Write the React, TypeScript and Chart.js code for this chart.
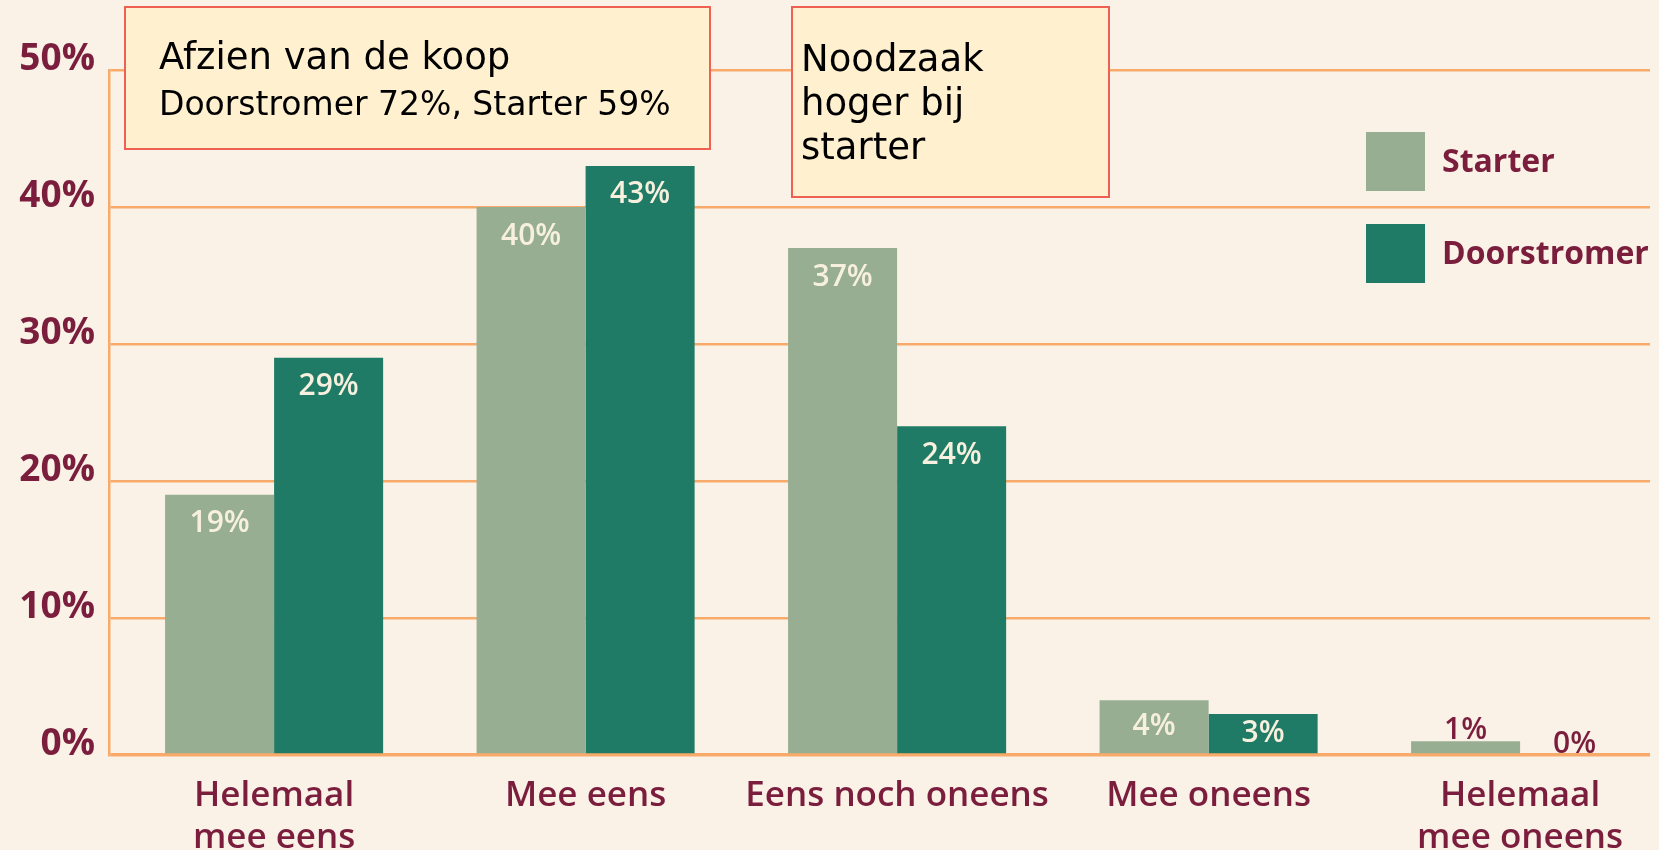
import React, { useEffect, useRef } from 'react';
import { Chart, registerables } from 'chart.js';
Chart.register(...registerables);

const categories: string[][] = [
  ['Helemaal', 'mee eens'],
  ['Mee eens'],
  ['Eens noch oneens'],
  ['Mee oneens'],
  ['Helemaal', 'mee oneens'],
];
const starterValues = [19, 40, 37, 4, 1];
const doorstromerValues = [29, 43, 24, 3, 0];
const yTicks = [0, 10, 20, 30, 40, 50];
const seriesNames = ['Starter', 'Doorstromer'];
const note1Title = 'Afzien van de koop';
const note1Sub = 'Doorstromer 72%, Starter 59%';
const note2Lines = ['Noodzaak', 'hoger bij', 'starter'];

const BG = '#FAF2E6';
const STARTER = '#97AE93';
const DOOR = '#1F7B66';
const MAROON = '#7B1E3E';
const ORANGE = '#F8AA6A';
const LABEL_LIGHT = '#F7F0DE';
const NOTE_FILL = '#FFF0D0';
const NOTE_STROKE = '#EE6052';

const valueLabelPlugin = {
  id: 'valueLabels',
  afterDatasetsDraw(chart: any) {
    const ctx = chart.ctx;
    ctx.save();
    ctx.font = '600 30px "Open Sans"';
    ctx.textAlign = 'center';
    ctx.textBaseline = 'middle';
    chart.data.datasets.forEach((ds: any, di: number) => {
      const meta = chart.getDatasetMeta(di);
      meta.data.forEach((bar: any, i: number) => {
        const v = ds.data[i].y;
        const top = bar.y;
        const h = bar.base - bar.y;
        const text = v + '%';
        if (h >= 30) {
          ctx.fillStyle = LABEL_LIGHT;
          ctx.fillText(text, bar.x, top + Math.min(29, h / 2));
        } else {
          ctx.fillStyle = MAROON;
          ctx.fillText(text, bar.x, top - 11);
        }
      });
    });
    ctx.restore();
  },
};

const overlayPlugin = {
  id: 'overlay',
  afterDraw(chart: any) {
    const ctx = chart.ctx;
    ctx.save();
    // legend
    const colors = [STARTER, DOOR];
    const ys = [132, 224];
    seriesNames.forEach((name, i) => {
      ctx.fillStyle = colors[i];
      ctx.fillRect(1366, ys[i], 59, 59);
      ctx.fillStyle = MAROON;
      ctx.font = '700 32px "Open Sans"';
      ctx.textAlign = 'left';
      ctx.textBaseline = 'middle';
      ctx.fillText(name, 1442, ys[i] + 31);
    });
    // note boxes
    ctx.lineWidth = 2;
    ctx.fillStyle = NOTE_FILL;
    ctx.strokeStyle = NOTE_STROKE;
    ctx.fillRect(125, 7, 585, 142);
    ctx.strokeRect(125, 7, 585, 142);
    ctx.fillRect(792, 7, 317, 190);
    ctx.strokeRect(792, 7, 317, 190);
    ctx.fillStyle = '#000';
    ctx.textAlign = 'left';
    ctx.textBaseline = 'middle';
    ctx.font = '37px "DejaVu Sans"';
    ctx.fillText(note1Title, 159, 59);
    ctx.font = '33px "DejaVu Sans"';
    ctx.fillText(note1Sub, 159, 106);
    ctx.font = '37px "DejaVu Sans"';
    note2Lines.forEach((t, i) => ctx.fillText(t, 801, 61 + i * 44));
    ctx.restore();
  },
};

export default function App() {
  const ref = useRef<HTMLCanvasElement>(null);
  useEffect(() => {
    const chart = new Chart(ref.current as HTMLCanvasElement, {
      type: 'bar',
      data: {
        datasets: [
          {
            label: seriesNames[0],
            data: starterValues.map((v, i) => ({ x: i, y: v })),
            backgroundColor: STARTER,
          },
          {
            label: seriesNames[1],
            data: doorstromerValues.map((v, i) => ({ x: i, y: v })),
            backgroundColor: DOOR,
          },
        ],
      },
      options: {
        animation: false,
        responsive: false,
        maintainAspectRatio: false,
        layout: { padding: { top: 70, right: 9, left: 0, bottom: 0 } },
        datasets: { bar: { categoryPercentage: 0.7, barPercentage: 1 } },
        plugins: { legend: { display: false }, tooltip: { enabled: false } },
        scales: {
          x: {
            type: 'linear',
            offset: false,
            min: -0.53,
            max: 4.417,
            afterBuildTicks: (s: any) => {
              s.ticks = categories.map((_, i) => ({ value: i }));
            },
            afterFit: (s: any) => {
              s.height = 95;
            },
            ticks: {
              autoSkip: false,
              maxRotation: 0,
              minRotation: 0,
              padding: 20,
              color: MAROON,
              font: { family: 'Open Sans', size: 35, weight: '600', lineHeight: 1.2 },
              callback: (v: any) => categories[v] ?? '',
            },
            grid: { display: false, drawTicks: false },
            border: { display: false },
          },
          y: {
            min: 0,
            max: 50,
            afterBuildTicks: (s: any) => {
              s.ticks = yTicks.map((v) => ({ value: v }));
            },
            afterFit: (s: any) => {
              s.width = 109;
            },
            ticks: {
              padding: 14,
              labelOffset: -11,
              color: MAROON,
              font: { family: 'Open Sans', size: 37, weight: '700' },
              callback: (v: any) => v + '%',
            },
            grid: {
              color: ORANGE,
              lineWidth: (c: any) => (c.tick && c.tick.value === 0 ? 3.5 : 2.5),
              drawTicks: false,
            },
            border: { display: true, color: ORANGE, width: 2.5 },
          },
        },
      },
      plugins: [valueLabelPlugin, overlayPlugin],
    } as any);
    return () => chart.destroy();
  }, []);
  return (
    <div style={{ position: 'fixed', left: 0, top: 0, width: 1659, height: 850, background: BG }}>
      <canvas ref={ref} width={1659} height={850} style={{ display: 'block' }} />
    </div>
  );
}
